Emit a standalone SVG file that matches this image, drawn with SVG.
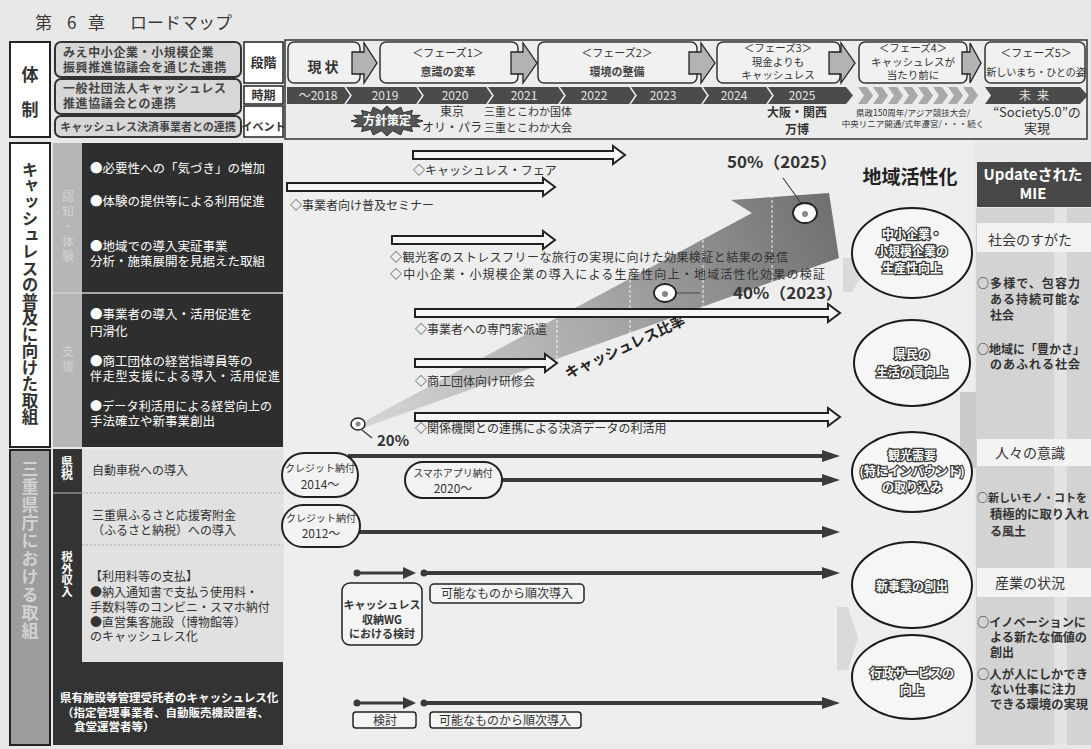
<svg xmlns="http://www.w3.org/2000/svg" width="1091" height="749" viewBox="0 0 1091 749">
<defs>
<style>
text{font-family:"Noto Sans CJK JP","Noto Sans CJK SC",sans-serif;fill:#333}
.b{font-weight:bold}
.w{fill:#fff}
.lt{fill:#e4e4e4}
.s10{font-size:10px}.s11{font-size:11px}.s12{font-size:12px}.s125{font-size:12.5px}.s13{font-size:13px}
.mid{text-anchor:middle}
.vt{writing-mode:vertical-rl}
.hol{fill:#f7f7f7;stroke:#222;stroke-width:2;stroke-linejoin:miter}
.pill{fill:#f3f3f3;stroke:#222;stroke-width:2}
.box{fill:#f4f4f4;stroke:#222;stroke-width:1.5}
.ph{fill:#f1f1f1;stroke:#333;stroke-width:1.5}
.pa{fill:#b3b3b3;stroke:#222;stroke-width:1.3}
.ell{fill:#f6f6f6;stroke:#1a1a1a;stroke-width:2}
.ol{font-weight:bold;font-size:12px;fill:#fff;stroke:#333;stroke-width:2.4px;paint-order:stroke;text-anchor:middle}
.ln{stroke:#3a3a3a;stroke-width:4;fill:none}
.sep{stroke:#eee;stroke-width:1.5;fill:none}
.rt{font-size:12px;font-weight:bold}
.hd{fill:#d7d7d7;stroke:#333;stroke-width:2}
</style>
<marker id="ah" markerUnits="userSpaceOnUse" markerWidth="18" markerHeight="12" refX="8" refY="6" orient="auto">
<path d="M0,0 L18,6 L0,12 Z" fill="#3a3a3a"/>
</marker>
<linearGradient id="gArr" gradientUnits="userSpaceOnUse" x1="363" y1="425" x2="830" y2="200">
<stop offset="0" stop-color="#d6d6d6"/>
<stop offset="0.5" stop-color="#a8a8a8"/>
<stop offset="1" stop-color="#707070"/>
</linearGradient>
<clipPath id="cArr"><path d="M363,422 L752,213 L731,200 L829,193 L839,258 L363,428 Z"/></clipPath>
</defs>

<rect x="0" y="0" width="1091" height="749" fill="#e8e8e8"/>
<rect x="284" y="140" width="690" height="605" fill="#eeeeee"/>

<!-- title -->
<text y="29" style="font-size:17px;fill:#3a3a3a"><tspan x="35">第</tspan><tspan x="67">6</tspan><tspan x="88">章</tspan><tspan x="130">ロードマップ</tspan></text>

<!-- header left -->
<g id="taisei">
<rect x="10" y="42" width="40" height="95" fill="#fff" stroke="#222" stroke-width="2"/>
<text x="30" y="81" class="b mid" style="font-size:17px">体</text>
<text x="30" y="116" class="b mid" style="font-size:17px">制</text>
</g>
<g id="renkei1">
<rect x="55" y="42" width="186" height="35" rx="6" class="hd"/>
<text x="63" y="57" class="s12 b" style="fill:#444;letter-spacing:0.6px">みえ中小企業・小規模企業</text>
<text x="63" y="72" class="s12 b" style="fill:#444;letter-spacing:0.6px">振興推進協議会を通じた連携</text>
</g>
<g id="renkei2">
<rect x="55" y="79" width="186" height="35" rx="6" class="hd"/>
<text x="63" y="93" class="s12 b" style="fill:#444;letter-spacing:0.6px">一般社団法人キャッシュレス</text>
<text x="63" y="108" class="s12 b" style="fill:#444;letter-spacing:0.6px">推進協議会との連携</text>
</g>
<g id="renkei3">
<rect x="55" y="116" width="186" height="21" rx="6" class="hd"/>
<text x="148" y="131" class="s11 b mid" style="fill:#444">キャッシュレス決済事業者との連携</text>
</g>
<g id="rowlabels">
<rect x="244" y="42" width="39" height="41" fill="#fff" stroke="#222" stroke-width="1.5"/>
<text x="263.5" y="67" class="s13 b mid">段階</text>
<rect x="244" y="86" width="39" height="18" fill="#fff" stroke="#222" stroke-width="1.5"/>
<text x="263.5" y="100" class="s12 b mid">時期</text>
<rect x="244" y="106" width="39" height="31" fill="#fff" stroke="#222" stroke-width="1.5"/>
<text x="263.5" y="131" class="s11 b mid">イベント</text>
</g>

<!-- header right frame -->
<rect x="285" y="40" width="802" height="99" fill="#ececec" stroke="#333" stroke-width="1.5"/>

<!-- phases -->
<g id="phase0"><rect x="288" y="42" width="72" height="41" rx="6" class="ph"/>
<text x="323" y="72" class="b mid" style="font-size:14px">現 状</text></g>
<g id="phase1"><rect x="380" y="42" width="138" height="41" rx="6" class="ph"/>
<text x="448" y="57" class="s11 mid">＜フェーズ1＞</text>
<text x="448" y="76" class="s11 mid b" style="fill:#444">意識の変革</text></g>
<g id="phase2"><rect x="538" y="42" width="159" height="41" rx="6" class="ph"/>
<text x="617" y="57" class="s11 mid">＜フェーズ2＞</text>
<text x="617" y="76" class="s11 mid b" style="fill:#444">環境の整備</text></g>
<g id="phase3"><rect x="717" y="42" width="123" height="41" rx="6" class="ph"/>
<text x="778" y="52" class="mid" style="font-size:10.5px">＜フェーズ3＞</text>
<text x="778" y="66" class="mid" style="font-size:10.5px">現金よりも</text>
<text x="778" y="79" class="mid" style="font-size:10.5px">キャッシュレス</text></g>
<g id="phase4"><rect x="859" y="42" width="108" height="41" rx="6" class="ph"/>
<text x="913" y="52" class="mid" style="font-size:10.5px">＜フェーズ4＞</text>
<text x="913" y="66" class="mid" style="font-size:10.5px">キャッシュレスが</text>
<text x="913" y="79" class="mid" style="font-size:10.5px">当たり前に</text></g>
<g id="phase5"><rect x="985" y="42" width="100" height="41" rx="6" class="ph"/>
<text x="1036" y="57" class="s11 mid">＜フェーズ5＞</text>
<text x="1036" y="76" class="mid" style="font-size:10px">新しいまち・ひとの姿</text></g>
<g id="phase-arrows">
<path d="M352,52 H364 V43 L377,63 L364,83 V74 H352 Z" class="pa"/>
<path d="M511,52 H523 V43 L537,63 L523,83 V74 H511 Z" class="pa"/>
<path d="M689,52 H701 V43 L715,63 L701,83 V74 H689 Z" class="pa"/>
<path d="M829,52 H841 V43 L855,63 L841,83 V74 H829 Z" class="pa"/>
<path d="M962,52 H970 V43 L981,63 L970,83 V74 H962 Z" class="pa"/>
</g>

<!-- timeline -->
<g id="timeline">
<path d="M287,87 H846 L853,95.5 L846,104 H287 Z" fill="#4b4b4b"/>
<polyline points="345,87 351,95.5 345,104" class="sep"/>
<polyline points="417,87 423,95.5 417,104" class="sep"/>
<polyline points="487,87 493,95.5 487,104" class="sep"/>
<polyline points="559,87 565,95.5 559,104" class="sep"/>
<polyline points="630,87 636,95.5 630,104" class="sep"/>
<polyline points="702,87 708,95.5 702,104" class="sep"/>
<polyline points="767,87 773,95.5 767,104" class="sep"/>
<text x="318" y="100" class="s12 mid lt">～2018</text>
<text x="385" y="100" class="s12 mid lt">2019</text>
<text x="455" y="100" class="s12 mid lt">2020</text>
<text x="524" y="100" class="s12 mid lt">2021</text>
<text x="594" y="100" class="s12 mid lt">2022</text>
<text x="663" y="100" class="s12 mid lt">2023</text>
<text x="734" y="100" class="s12 mid lt">2024</text>
<text x="802" y="100" class="s12 mid lt">2025</text>
<g fill="#a9a9a9">
<path d="M858,87 h9 l6,8.5 l-6,8.5 h-9 l6,-8.5 Z"/>
<path d="M873,87 h9 l6,8.5 l-6,8.5 h-9 l6,-8.5 Z"/>
<path d="M888,87 h9 l6,8.5 l-6,8.5 h-9 l6,-8.5 Z"/>
<path d="M903,87 h9 l6,8.5 l-6,8.5 h-9 l6,-8.5 Z"/>
<path d="M918,87 h9 l6,8.5 l-6,8.5 h-9 l6,-8.5 Z"/>
<path d="M933,87 h9 l6,8.5 l-6,8.5 h-9 l6,-8.5 Z"/>
<path d="M948,87 h9 l6,8.5 l-6,8.5 h-9 l6,-8.5 Z"/>
<path d="M963,87 h9 l6,8.5 l-6,8.5 h-9 l6,-8.5 Z"/>
</g>
<path d="M985,87 H1080 L1088,95.5 L1080,104 H985 L991,95.5 Z" fill="#4b4b4b"/>
<text x="1037" y="100" class="s12 mid lt" style="letter-spacing:6px">未来</text>
</g>

<!-- events -->
<g id="events">
<polygon points="423,121 415.4,123 420.3,126.7 411.1,126.6 412.5,131.6 403.1,129.3 400.8,134.9 392.7,130.8 387,136 381.3,130.8 373.2,134.9 370.9,129.3 361.5,131.6 362.9,126.6 353.7,126.7 358.6,123 351,121 358.6,119 353.7,115.3 362.9,115.4 361.5,110.4 370.9,112.7 373.2,107.1 381.3,111.2 387,106 392.7,111.2 400.8,107.1 403.1,112.7 412.5,110.4 411.1,115.4 420.3,115.3 415.4,119" fill="#555" stroke="#333" stroke-width="1"/>
<text x="387" y="125" class="s12 mid w b">方針策定</text>
<text x="452" y="116" class="s12 mid">東京</text>
<text x="452" y="132" class="s12 mid">オリ・パラ</text>
<text x="484" y="116" class="s11">三重とこわか国体</text>
<text x="484" y="132" class="s11">三重とこわか大会</text>
<text x="797" y="117" class="s12 mid b">大阪・関西</text>
<text x="797" y="134" class="s12 mid b">万博</text>
<text x="913" y="116" class="mid" style="font-size:8.5px">県政150周年/アジア競技大会/</text>
<text x="913" y="127" class="mid" style="font-size:8.5px">中央リニア開通/式年遷宮/・・・続く</text>
<text x="1037" y="117" class="s13 mid">“Society5.0”の</text>
<text x="1037" y="133" class="s13 mid">実現</text>
</g>

<!-- section 1 left -->
<g id="sec1-label">
<rect x="10" y="143" width="40" height="304" fill="#fff" stroke="#222" stroke-width="2"/>
<text x="30" y="161" class="b vt" style="font-size:16.5px">キャッシュレスの普及に向けた取組</text>
</g>
<g id="sec1-items">
<rect x="53" y="143" width="29" height="304" fill="#b6b6b6"/>
<rect x="82" y="143" width="201" height="304" fill="#2e2e2e"/>
<line x1="53" y1="293" x2="283" y2="293" stroke="#d0d0d0" stroke-width="1.5"/>
<text x="68" y="190" class="s12 vt" style="fill:#d2d2d2;letter-spacing:3px">認知・体験</text>
<text x="68" y="345" class="s12 vt" style="fill:#d2d2d2;letter-spacing:3px">支援</text>
<text x="90" y="172.5" class="w s125">●必要性への「気づき」の増加</text>
<text x="90" y="206" class="w s125">●体験の提供等による利用促進</text>
<text x="90" y="250.5" class="w s125">●地域での導入実証事業</text>
<text x="90" y="265.5" class="w s125">分析・施策展開を見据えた取組</text>
<text x="90" y="319" class="w s125">●事業者の導入・活用促進を</text>
<text x="90" y="336" class="w s125">円滑化</text>
<text x="90" y="366" class="w s125">●商工団体の経営指導員等の</text>
<text x="90" y="381" class="w s12" textLength="190">伴走型支援による導入・活用促進</text>
<text x="90" y="411" class="w s12" textLength="182">●データ利活用による経営向上の</text>
<text x="90" y="426" class="w s125">手法確立や新事業創出</text>
</g>

<!-- faint background arrows -->
<g id="bg-arrows">
<polygon points="843,258 852,258 862,275 852,292 843,292" fill="#dadada"/>
<polygon points="837,607 848,607 858,638 848,670 837,670" fill="#dadada"/>
<polygon points="960,392 985,392 1003,430 985,468 960,468" fill="#cbcbcb"/>
</g>

<!-- big ratio arrow -->
<g id="ratio-arrow">
<path d="M363,422 L752,213 L731,200 L829,193 L839,258 L363,428 Z" fill="url(#gArr)"/>
<g clip-path="url(#cArr)" stroke="#f2f2f2" stroke-width="1" stroke-dasharray="3,2">
<line x1="557" y1="180" x2="557" y2="440"/>
<line x1="630" y1="180" x2="630" y2="440"/>
<line x1="703" y1="180" x2="703" y2="440"/>
<line x1="772" y1="180" x2="772" y2="440"/>
</g>
<text transform="translate(625,347) rotate(-25)" y="5" class="b mid" style="font-size:14.5px;fill:#222">キャッシュレス比率</text>
</g>

<!-- hollow arrows -->
<g id="connectors-s1">
<path d="M413,151 H613 V146 L625,155 L613,164 V159 H413 Z" class="hol"/>
<path d="M287,183 H543 V178 L555,187 L543,196 V191 H287 Z" class="hol"/>
<path d="M392,236 H543 V231 L555,240 L543,249 V244 H392 Z" class="hol"/>
<path d="M415,309 H828 V304 L840,313 L828,322 V317 H415 Z" class="hol"/>
<path d="M415,359 H545 V354 L557,363 L545,372 V367 H415 Z" class="hol"/>
<path d="M415,413 H828 V408 L840,417 L828,426 V421 H415 Z" class="hol"/>
</g>
<g id="labels-s1">
<text x="413" y="175" class="s12">◇キャッシュレス・フェア</text>
<text x="290" y="210" class="s12">◇事業者向け普及セミナー</text>
<text x="390" y="262" class="s12" textLength="398" lengthAdjust="spacing">◇観光客のストレスフリーな旅行の実現に向けた効果検証と結果の発信</text>
<text x="390" y="279" class="s12" textLength="435" lengthAdjust="spacing">◇中小企業・小規模企業の導入による生産性向上・地域活性化効果の検証</text>
<text x="415" y="334" class="s12">◇事業者への専門家派遣</text>
<text x="415" y="386" class="s12">◇商工団体向け研修会</text>
<text x="415" y="433" class="s12">◇関係機関との連携による決済データの利活用</text>
</g>

<!-- markers on ratio -->
<g id="milestones">
<line x1="362" y1="430" x2="372" y2="438" stroke="#333" stroke-width="1.2"/>
<ellipse cx="358" cy="424" rx="7" ry="6" fill="#fff" stroke="#222" stroke-width="1.5"/>
<circle cx="358" cy="424" r="2.5" fill="#888"/>
<text x="377" y="446" class="b" style="font-size:15px">20%</text>
<line x1="676" y1="293" x2="700" y2="293" stroke="#555" stroke-width="1.2"/>
<ellipse cx="665" cy="293" rx="11" ry="9" fill="#fff" stroke="#222" stroke-width="1.8"/>
<circle cx="665" cy="294" r="3" fill="#888"/>
<text x="733" y="299" class="b" style="font-size:16px" textLength="110" lengthAdjust="spacingAndGlyphs">40%（2023）</text>
<line x1="801" y1="203" x2="783" y2="178" stroke="#444" stroke-width="1.2"/>
<ellipse cx="805" cy="213" rx="12" ry="10" fill="#fff" stroke="#222" stroke-width="1.8"/>
<circle cx="805" cy="214" r="3" fill="#888"/>
<text x="727" y="168" class="b" style="font-size:16px" textLength="110" lengthAdjust="spacingAndGlyphs">50%（2025）</text>
</g>

<text x="910" y="184" class="b mid" style="font-size:19px;fill:#222">地域活性化</text>

<!-- outcome ellipses -->
<g id="e1"><ellipse cx="912" cy="253" rx="60" ry="45" class="ell"/>
<text x="912" y="239" class="ol">中小企業・</text>
<text x="912" y="256" class="ol">小規模企業の</text>
<text x="912" y="273" class="ol">生産性向上</text></g>
<g id="e2"><ellipse cx="912" cy="363" rx="58" ry="43" class="ell"/>
<text x="912" y="359" class="ol">県民の</text>
<text x="912" y="377" class="ol">生活の質向上</text></g>
<g id="e3"><ellipse cx="912" cy="472" rx="60" ry="40" class="ell"/>
<text x="912" y="460" class="ol">観光需要</text>
<text x="912" y="476" class="ol">(特にインバウンド)</text>
<text x="912" y="492" class="ol">の取り込み</text></g>
<g id="e4"><ellipse cx="912" cy="585" rx="60" ry="43" class="ell"/>
<text x="912" y="591" class="ol">新事業の創出</text></g>
<g id="e5"><ellipse cx="912" cy="677" rx="60" ry="42" class="ell"/>
<text x="912" y="678" class="ol">行政サービスの</text>
<text x="912" y="695" class="ol">向上</text></g>

<!-- right column -->
<g id="mie">
<rect x="976" y="208" width="115" height="537" fill="#d3d3d3"/>
<rect x="1054" y="208" width="13" height="537" fill="#e3e3e3"/>
<rect x="977" y="162" width="114" height="45" fill="#474747"/>
<text x="1033" y="180" class="b mid w" style="font-size:15px">Updateされた</text>
<text x="1033" y="199" class="b mid w" style="font-size:15px">MIE</text>
<rect x="977" y="223" width="114" height="29" fill="#f3f3f3"/>
<text x="1030" y="245" class="mid" style="font-size:14px">社会のすがた</text>
<text x="977" y="288" class="rt" textLength="103">○多様で、包容力</text>
<text x="990" y="304" class="rt" textLength="90">ある持続可能な</text>
<text x="990" y="320" class="rt">社会</text>
<text x="977" y="354" class="rt" textLength="108">○地域に「豊かさ」</text>
<text x="990" y="369" class="rt" textLength="90">のあふれる社会</text>
<rect x="977" y="439" width="114" height="27" fill="#f3f3f3"/>
<text x="1030" y="458" class="mid" style="font-size:14px">人々の意識</text>
<text x="977" y="502" class="rt" style="font-size:11px" textLength="110" lengthAdjust="spacingAndGlyphs">○新しいモノ・コトを</text>
<text x="990" y="519" class="rt" textLength="99" lengthAdjust="spacingAndGlyphs">積極的に取り入れ</text>
<text x="990" y="536" class="rt">る風土</text>
<rect x="977" y="568" width="114" height="29" fill="#f3f3f3"/>
<text x="1030" y="588" class="mid" style="font-size:14px">産業の状況</text>
<text x="977" y="627" class="rt" textLength="109" lengthAdjust="spacingAndGlyphs">○イノベーションに</text>
<text x="990" y="642" class="rt" textLength="97" lengthAdjust="spacingAndGlyphs">よる新たな価値の</text>
<text x="990" y="657" class="rt">創出</text>
<text x="977" y="679" class="rt" textLength="111" lengthAdjust="spacingAndGlyphs">○人が人にしかでき</text>
<text x="990" y="694" class="rt" textLength="86">ない仕事に注力</text>
<text x="990" y="709" class="rt" textLength="98" lengthAdjust="spacingAndGlyphs">できる環境の実現</text>
</g>

<!-- section 2 left -->
<g id="sec2-label">
<rect x="10" y="450" width="40" height="295" fill="#9d9d9d" stroke="#222" stroke-width="2"/>
<text x="30" y="460" class="b vt" style="font-size:17px;fill:#d2d2d2;letter-spacing:1px">三重県庁における取組</text>
</g>
<g id="sec2-items">
<rect x="53" y="449" width="29" height="213" fill="#333"/>
<line x1="53" y1="493" x2="82" y2="493" stroke="#bbb" stroke-width="1"/>
<rect x="82" y="449" width="201" height="213" fill="#e1e1e1"/>
<line x1="82" y1="493" x2="283" y2="493" stroke="#aaa" stroke-width="1" stroke-dasharray="2,2"/>
<line x1="82" y1="545" x2="283" y2="545" stroke="#aaa" stroke-width="1" stroke-dasharray="2,2"/>
<rect x="53" y="662" width="230" height="83" fill="#333"/>
<text x="67" y="456" class="b vt w" style="font-size:12px">県税</text>
<text x="67" y="551" class="b vt w" style="font-size:11.5px">税外収入</text>
<text x="92" y="475" class="s12">自動車税への導入</text>
<text x="92" y="520" class="s12">三重県ふるさと応援寄附金</text>
<text x="92" y="535" class="s12">（ふるさと納税）への導入</text>
<text x="90" y="581" class="s12">【利用料等の支払】</text>
<text x="90" y="597" class="s12">●納入通知書で支払う使用料・</text>
<text x="90" y="612" class="s12">手数料等のコンビニ・スマホ納付</text>
<text x="90" y="627" class="s12">●直営集客施設（博物館等）</text>
<text x="90" y="641" class="s12">のキャッシュレス化</text>
<text x="60" y="702" class="b w" style="font-size:11.5px">県有施設等管理受託者のキャッシュレス化</text>
<text x="62" y="717" class="b w" style="font-size:11.5px">（指定管理事業者、自動販売機設置者、</text>
<text x="74" y="731" class="b w" style="font-size:11.5px">食堂運営者等）</text>
</g>

<!-- section 2 connectors -->
<g id="connectors-s2">
<line x1="348" y1="456" x2="830" y2="456" class="ln" marker-end="url(#ah)"/>
<line x1="500" y1="480" x2="830" y2="480" class="ln" marker-end="url(#ah)"/>
<line x1="358" y1="532" x2="830" y2="532" class="ln" marker-end="url(#ah)"/>
<line x1="357" y1="573" x2="405" y2="573" stroke="#3a3a3a" stroke-width="3"/>
<path d="M403,567 L416,573 L403,579 Z" fill="#3a3a3a"/>
<circle cx="357" cy="573" r="3.5" fill="#3a3a3a"/>
<circle cx="424" cy="573" r="3.5" fill="#3a3a3a"/>
<line x1="424" y1="573" x2="830" y2="573" class="ln" marker-end="url(#ah)"/>
<line x1="357" y1="703" x2="405" y2="703" stroke="#3a3a3a" stroke-width="3"/>
<path d="M403,697 L416,703 L403,709 Z" fill="#3a3a3a"/>
<circle cx="357" cy="703" r="3.5" fill="#3a3a3a"/>
<circle cx="424" cy="703" r="3.5" fill="#3a3a3a"/>
<line x1="424" y1="703" x2="830" y2="703" class="ln" marker-end="url(#ah)"/>
</g>
<g id="pill1"><rect x="282" y="453" width="76" height="44" rx="22" class="pill"/>
<text x="320" y="472" class="s10 mid">クレジット納付</text>
<text x="320" y="489" class="s12 mid">2014～</text></g>
<g id="pill2"><rect x="405" y="462" width="97" height="36" rx="18" class="pill"/>
<text x="453" y="477" class="s10 mid">スマホアプリ納付</text>
<text x="453" y="493" class="s12 mid">2020～</text></g>
<g id="pill3"><rect x="282" y="505" width="78" height="42" rx="21" class="pill"/>
<text x="321" y="522" class="s10 mid">クレジット納付</text>
<text x="321" y="538" class="s12 mid">2012～</text></g>
<g id="wg"><rect x="342" y="583" width="80" height="62" rx="8" class="box"/>
<text x="382" y="609" class="s11 mid b">キャッシュレス</text>
<text x="382" y="624" class="s11 mid b">収納WG</text>
<text x="382" y="638" class="s11 mid b">における検討</text></g>
<g id="junji1"><rect x="430" y="584" width="154" height="19" rx="4" class="box"/>
<text x="507" y="598" class="s12 mid">可能なものから順次導入</text></g>
<g id="kento"><rect x="353" y="712" width="63" height="16" rx="3" class="box"/>
<text x="385" y="724.5" class="s12 mid">検討</text></g>
<g id="junji2"><rect x="430" y="712" width="151" height="16" rx="3" class="box"/>
<text x="505" y="724.5" class="s12 mid">可能なものから順次導入</text></g>
</svg>
